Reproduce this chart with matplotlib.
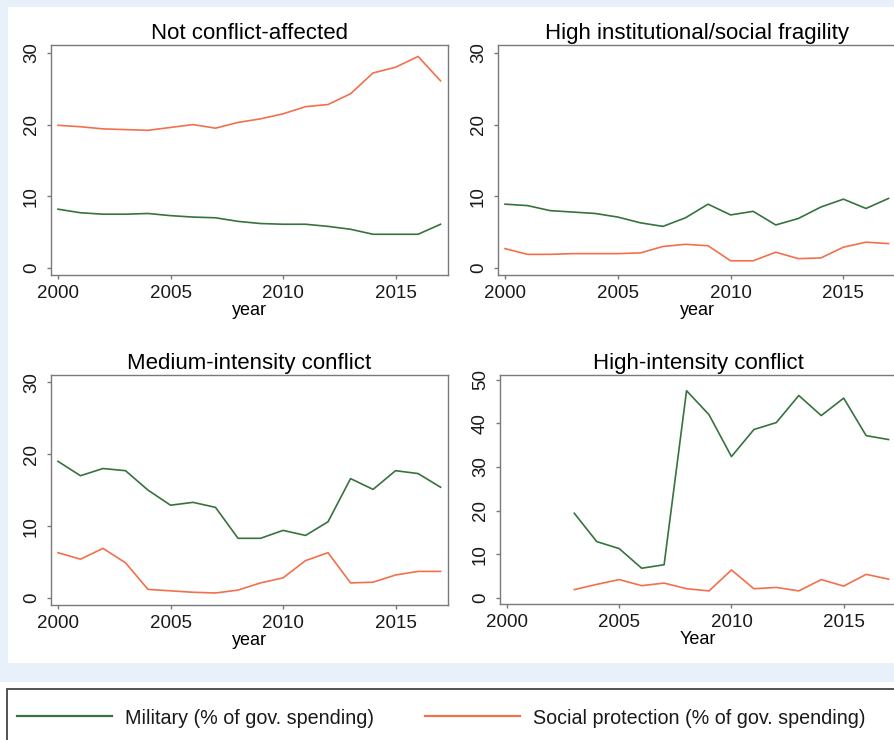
import matplotlib.pyplot as plt
from matplotlib.patches import Rectangle
from matplotlib.lines import Line2D

W, H = 894, 740

years = list(range(2000, 2018))
years_high = list(range(2003, 2018))

# Military spending, % of government spending
mil_none = [8.2, 7.7, 7.5, 7.5, 7.6, 7.3, 7.1, 7.0, 6.5, 6.2, 6.1, 6.1, 5.8, 5.4, 4.7, 4.7, 4.7, 6.1]
mil_fragile = [8.9, 8.7, 8.0, 7.8, 7.6, 7.1, 6.3, 5.8, 7.0, 8.9, 7.4, 7.9, 6.0, 6.9, 8.5, 9.6, 8.3, 9.7]
mil_medium = [19.0, 17.0, 18.0, 17.7, 15.0, 12.9, 13.3, 12.6, 8.3, 8.3, 9.4, 8.7, 10.6, 16.6, 15.1, 17.7, 17.3, 15.4]
mil_high = [19.4, 12.9, 11.3, 6.8, 7.6, 47.5, 42.0, 32.4, 38.6, 40.2, 46.4, 41.8, 45.8, 37.2, 36.3]

# Social protection spending, % of government spending
soc_none = [19.9, 19.7, 19.4, 19.3, 19.2, 19.6, 20.0, 19.5, 20.3, 20.8, 21.5, 22.5, 22.8, 24.3, 27.2, 28.0, 29.5, 26.1]
soc_fragile = [2.7, 1.9, 1.9, 2.0, 2.0, 2.0, 2.1, 3.0, 3.3, 3.1, 1.0, 1.0, 2.2, 1.3, 1.4, 2.9, 3.6, 3.4]
soc_medium = [6.3, 5.4, 6.9, 4.9, 1.2, 1.0, 0.8, 0.7, 1.1, 2.1, 2.8, 5.2, 6.3, 2.1, 2.2, 3.2, 3.7, 3.7]
soc_high = [1.9, 3.1, 4.2, 2.8, 3.4, 2.1, 1.6, 6.4, 2.1, 2.4, 1.6, 4.2, 2.7, 5.4, 4.3]

titles = ["Not conflict-affected", "High institutional/social fragility",
          "Medium-intensity conflict", "High-intensity conflict"]
xlabels = ["year", "year", "year", "Year"]
legend_labels = ["Military (% of gov. spending)", "Social protection (% of gov. spending)"]

green = "#37723f"
orange = "#f2704c"
frame = "#7a7a7a"

plt.rcParams['font.family'] = ['Liberation Sans', 'DejaVu Sans']

fig = plt.figure(figsize=(W / 100, H / 100), dpi=100)
fig.patch.set_facecolor("white")

# outer graph region and inner plot region
fig.add_artist(Rectangle((0, 1 - 682 / H), 1, 682 / H, transform=fig.transFigure,
                         facecolor="#e8f1fa", edgecolor="none", zorder=0))
fig.add_artist(Rectangle((8 / W, 1 - 663 / H), 1, (663 - 7) / H, transform=fig.transFigure,
                         facecolor="white", edgecolor="none", zorder=0))


def add_panel(left, top, right, bottom):
    return fig.add_axes([left / W, 1 - bottom / H, (right - left) / W, (bottom - top) / H])


panels = [
    (add_panel(51, 45, 448, 275), years, mil_none, soc_none, (-0.98, 31.1), [0, 10, 20, 30]),
    (add_panel(498, 45, 896, 275), years, mil_fragile, soc_fragile, (-0.98, 31.1), [0, 10, 20, 30]),
    (add_panel(51, 375, 448, 605), years, mil_medium, soc_medium, (-0.97, 31.0), [0, 10, 20, 30]),
    (add_panel(500, 375, 896, 604), years_high, mil_high, soc_high, (-1.4, 51.1), [0, 10, 20, 30, 40, 50]),
]

for i, (ax, x, mil, soc, ylim, yticks) in enumerate(panels):
    ax.plot(x, mil, color=green, lw=1.2)
    ax.plot(x, soc, color=orange, lw=1.2)
    ax.set_xlim(1999.69, 2017.33)
    ax.set_ylim(*ylim)
    ax.set_xticks([2000, 2005, 2010, 2015])
    ax.set_yticks(yticks)
    for s in ax.spines.values():
        s.set_color(frame)
        s.set_linewidth(1.0)
    ax.tick_params(length=3, width=1, color=frame, labelsize=13.5, labelcolor="#1a1a1a")
    ax.tick_params(axis="x", pad=4)
    ax.tick_params(axis="y", pad=5)
    plt.setp(ax.get_yticklabels(), rotation=90, va="center")
    ax.set_title(titles[i], fontsize=16, pad=4)
    ax.set_xlabel(xlabels[i], fontsize=13, labelpad=0)

# legend box along the bottom
fig.add_artist(Rectangle((7 / W, -0.1), 1.1, (740 - 689) / H + 0.1, transform=fig.transFigure,
                         fill=False, edgecolor="#444444", linewidth=1.3))
for (x0, x1, tx), color, label in zip([(17, 112, 125), (425, 520, 533)], [green, orange], legend_labels):
    fig.add_artist(Line2D([x0 / W, x1 / W], [1 - 716 / H] * 2, transform=fig.transFigure,
                          color=color, lw=1.6))
    fig.text(tx / W, 1 - 718 / H, label, fontsize=14.2, va="center", ha="left",
             color="#1a1a1a")

fig.savefig("out.png", dpi=100)
